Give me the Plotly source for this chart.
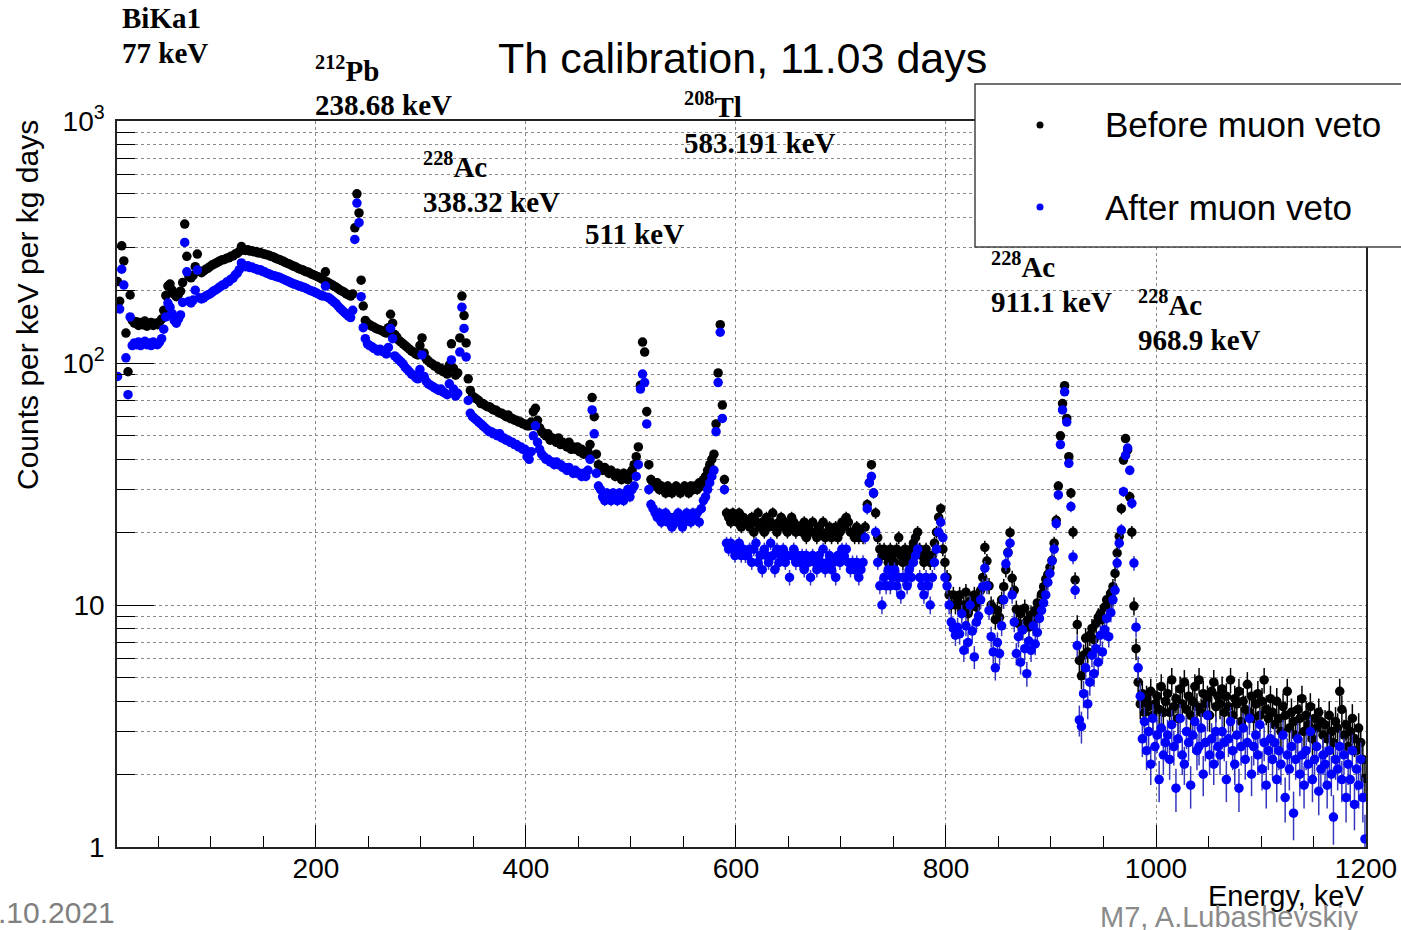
import numpy as np
import plotly.graph_objects as go

# ---------------- data (2 keV bins, centres 11 ... 1199 keV) ----------------
energy_keV = np.arange(11, 1200, 2)

before_veto = [
    # 11-59
    217, 180, 305, 264, 133, 92, 191, 150, 146, 148, 143, 147, 144, 149, 142, 145, 147, 143, 146, 144, 148, 152, 165, 190, 208,
    # 61-109
    212, 200, 192, 188, 192, 198, 215, 375, 276, 228, 225, 230, 250, 282, 240, 236, 240, 244, 246, 250, 254, 256, 259, 262, 265,
    # 111-159
    267, 268, 271, 272, 276, 277, 282, 284, 289, 303, 293, 292, 294, 290, 291, 288, 289, 285, 286, 283, 282, 280, 279, 276, 275,
    # 161-209
    272, 269, 268, 265, 263, 260, 258, 256, 253, 251, 249, 246, 244, 243, 240, 238, 237, 234, 232, 230, 228, 226, 223, 221, 238,
    # 211-259
    216, 213, 211, 208, 206, 203, 200, 198, 196, 193, 191, 189, 193, 362, 500, 417, 220, 172, 150, 146, 144, 142, 141, 139, 138,
    # 261-309
    137, 136, 134, 133, 140, 159, 146, 131, 128, 124, 122, 120, 118, 116, 114, 112, 111, 109, 108, 118, 127, 110, 104, 102, 100,
    # 311-359
    99, 97, 97, 94, 95, 92, 93, 90, 98, 120, 95, 89, 91, 127, 189, 157, 121, 86, 77, 73, 72, 71, 70, 68, 68,
    # 361-409
    67, 66, 66, 65, 64, 64, 63, 62, 62, 61, 60, 61, 59, 59, 58, 58, 57, 57, 56, 56, 55, 55, 57, 63, 65,
    # 411-459
    58, 54, 52, 51, 50, 51, 48, 49, 48, 47, 49, 46, 47, 46, 45, 47, 44, 45, 44, 45, 43, 44, 42, 43, 43,
    # 461-509
    46, 72, 60, 42, 38, 37, 36, 37, 36, 35, 36, 35, 34, 35, 34, 33, 35, 34, 33, 35, 36, 38, 41, 45, 81,
    # 511-559
    122, 111, 63, 38, 33, 32, 31, 32, 30, 31, 30, 29, 31, 30, 29, 30, 31, 30, 29, 30, 31, 30, 29, 31, 30,
    # 561-609
    31, 30, 32, 31, 33, 34, 36, 38, 40, 42, 56, 91, 144, 67, 33, 24, 23, 22, 24, 23, 22, 24, 21, 23, 22,
    # 611-659
    22, 21, 23, 20, 22, 24, 21, 22, 20, 23, 21, 22, 24, 21, 20, 22, 23, 21, 22, 20, 21, 23, 22, 20, 21,
    # 661-709
    21, 20, 22, 19, 21, 20, 22, 20, 19, 21, 20, 22, 19, 20, 21, 19, 20, 21, 19, 20, 22, 21, 23, 22, 20,
    # 711-759
    20, 19, 21, 19, 20, 19, 21, 26, 32, 38, 29, 24, 19, 17, 16, 17, 16, 15, 17, 16, 15, 17, 19, 16, 15,
    # 761-809
    17, 16, 15, 17, 18, 19, 20, 17, 16, 15, 17, 16, 15, 16, 18, 20, 23, 25, 17, 15, 13, 11, 10, 11, 10,
    # 811-859
    10.5, 11, 9.5, 10, 11.3, 9.2, 10.4, 10, 11, 9.8, 10.5, 11.5, 13, 17.3, 15.2, 12, 10, 9.7, 8.7, 9.5, 8.9, 10.5, 11.9, 14, 16.5,
    # 861-909
    19.9, 12.9, 11.5, 9.6, 8.4, 9.2, 7.9, 9.7, 8.6, 8.1, 9.1, 8.4, 9.5, 10.2, 9.6, 11.1, 11.9, 12.8, 13.4, 14.3, 15.3, 18, 22.4, 31, 50,
    # 911-959
    68, 80.6, 59, 41, 29, 20, 12.7, 8.3, 5.9, 5.1, 6.2, 7.3, 6.4, 7.5, 8, 7.2, 8.4, 8.9, 9.2, 8.7, 9.8, 10.5, 10.1, 11.2, 11.9,
    # 961-1009
    13.5, 16.4, 19.2, 25, 39.7, 48.7, 43.7, 28, 20, 9.9, 6.6, 4.8, 3.9, 4.3, 3.6, 4.1, 3.8, 4.4, 3.5, 3.9, 4.2, 3.7, 4.6, 3.6, 4.0,
    # 1011-1059
    4.3, 3.6, 4.9, 3.8, 4.1, 3.4, 4.5, 3.9, 4.8, 3.7, 4.2, 3.5, 4.0, 4.6, 3.8, 4.9, 3.6, 4.3, 3.9, 4.1, 3.5, 4.4, 4.8, 3.8, 4.2,
    # 1061-1109
    3.9, 4.5, 3.6, 4.2, 3.8, 4.9, 3.5, 4.1, 3.9, 4.4, 3.3, 4.0, 3.7, 4.7, 3.6, 4.2, 3.4, 3.9, 4.3, 3.5, 4.0, 4.9, 3.7, 3.4, 4.1,
    # 1111-1159
    3.6, 3.2, 4.0, 3.4, 3.0, 3.8, 3.5, 4.4, 3.1, 3.6, 3.3, 2.9, 3.7, 3.4, 4.1, 3.0, 3.5, 3.2, 3.8, 2.8, 3.4, 3.1, 3.6, 3.3, 2.9,
    # 1161-1199
    3.2, 2.8, 3.5, 3.0, 2.7, 3.3, 3.1, 4.4, 3.7, 2.9, 3.2, 2.6, 3.0, 3.4, 2.8, 2.5, 3.1, 2.7, 2.3, 1.92,
]

after_veto = [
    # 11-59
    88, 167, 244, 210, 105, 74, 155, 118, 121, 119, 122, 118, 120, 123, 119, 121, 118, 122, 120, 119, 122, 126, 138, 155, 177,
    # 61-109
    170, 160, 150, 146, 152, 158, 178, 315, 238, 180, 177, 182, 200, 242, 186, 184, 186, 189, 191, 193, 196, 199, 201, 204, 207,
    # 111-159
    210, 211, 216, 217, 222, 224, 231, 235, 243, 259, 251, 250, 252, 248, 249, 246, 245, 242, 243, 239, 238, 235, 234, 231, 230,
    # 161-209
    229, 227, 226, 224, 222, 220, 218, 216, 214, 212, 211, 209, 208, 206, 205, 203, 201, 199, 198, 196, 194, 192, 190, 189, 208,
    # 211-259
    187, 185, 182, 179, 176, 172, 168, 165, 162, 159, 156, 154, 165, 324, 458, 380, 188, 140, 126, 120, 118, 117, 115, 114, 112,
    # 261-309
    114, 112, 111, 109, 116, 139, 126, 107, 105, 103, 101, 99, 96, 94, 92, 90, 89, 87, 86, 94, 108, 88, 84, 82, 81,
    # 311-359
    80, 79, 78, 77, 78, 76, 75, 74, 82, 103, 78, 73, 75, 111, 170, 139, 106, 70, 62, 60, 59, 58, 57, 56, 55,
    # 361-409
    54, 53, 52, 52, 51, 51, 50, 51, 49, 49, 48, 48, 47, 47, 46, 46, 45, 45, 44, 44, 41, 40, 43, 50, 55,
    # 411-459
    47, 44, 42, 41, 40, 40, 39, 39, 38, 39, 38, 38, 37, 37, 36, 37, 36, 35, 36, 35, 35, 34, 35, 34, 36,
    # 461-509
    40, 64, 51, 35, 31, 30, 28, 27, 29, 28, 27, 29, 28, 27, 29, 28, 27, 29, 30, 28, 30, 31, 34, 38, 78,
    # 511-559
    90, 83, 56, 30, 26, 25, 24, 23, 24, 22, 23, 24, 22, 23, 21, 23, 22, 24, 23, 21, 22, 24, 23, 22, 24,
    # 561-609
    23, 24, 22, 25, 27, 28, 30, 32, 34, 36, 52, 83, 134, 59, 30, 18, 17, 18, 17, 16, 17, 18, 16, 17, 16,
    # 611-659
    16, 17, 15, 17, 18, 15, 16, 14, 17, 16, 15, 18, 16, 14, 17, 15, 16, 17, 15, 16, 13, 16, 17, 15, 16,
    # 661-709
    15, 16, 14, 16, 15, 13, 16, 15, 14, 16, 15, 17, 14, 15, 16, 14, 15, 13, 16, 15, 17, 16, 17, 15, 14,
    # 711-759
    15, 14, 15, 13, 14, 15, 19, 25, 32, 34, 29, 20, 15, 12, 10, 13, 12, 14, 12, 13, 14, 12, 13, 11, 13,
    # 761-809
    13, 12, 14, 13, 15, 16, 17, 13, 12, 11, 13, 12, 10, 13, 15, 17, 20, 22, 19, 13, 12, 10, 8.5, 8, 7.5,
    # 811-859
    8.1, 7.6, 9.2, 6.5, 8.2, 7, 10, 7.8, 6.1, 8.5, 9, 10.5, 11.9, 14.2, 12, 9.5, 7.4, 6.4, 5.5, 7, 6.3, 8.2, 10.5, 14.8, 16.4,
    # 861-909
    18, 11, 8.5, 6.3, 7.4, 5.8, 7.9, 6.6, 5.2, 7.1, 6.5, 8.2, 6.9, 7.7, 8.8, 9.5, 10.2, 11, 12.4, 13.5, 15.2, 17, 21.7, 28.5, 46,
    # 911-959
    64, 76, 57, 38.5, 25.5, 15.8, 11.5, 6.8, 3.35, 3.15, 4.3, 5.5, 3.9, 4.8, 6.2, 5.2, 6.6, 5.8, 7.5, 6.4, 7.9, 8.8, 7.4, 9.3, 10.5,
    # 961-1009
    11.5, 14.9, 18, 20.4, 29.4, 41.5, 44.5, 36, 26.3, 14.9, 8.1, 5.5, 4.2, 2.8, 3.3, 2.5, 3.0, 2.2, 3.4, 2.6, 2.9, 1.9, 3.1, 2.4, 2.7,
    # 1011-1059
    2.9, 2.3, 3.2, 2.6, 1.75, 2.8, 3.4, 2.4, 2.2, 3.0, 2.7, 1.8, 2.9, 3.3, 2.5, 2.6, 3.1, 2.0, 2.7, 3.5, 2.4, 2.8, 2.2, 3.0, 2.6,
    # 1061-1109
    2.4, 3.0, 2.7, 1.9, 2.8, 3.3, 2.5, 2.2, 2.9, 1.75, 2.6, 3.1, 2.3, 2.7, 3.4, 2.0, 2.6, 2.9, 2.4, 3.2, 2.1, 2.7, 1.8, 2.5, 2.8,
    # 1111-1159
    2.3, 2.7, 1.9, 2.5, 2.2, 2.9, 1.6, 2.4, 2.1, 2.6, 1.38, 2.3, 2.8, 2.0, 2.4, 1.8, 2.5, 2.2, 3.0, 1.9, 2.3, 2.6, 1.7, 2.1, 2.4,
    # 1161-1199
    2.2, 1.8, 2.5, 2.0, 1.33, 2.3, 2.1, 2.6, 1.9, 2.4, 1.6, 2.2, 1.9, 2.5, 1.5, 2.1, 1.8, 2.3, 1.6, 1.08,
]

x_tick_vals = [200, 400, 600, 800, 1000, 1200]
x_tick_text = ["200", "400", "600", "800", "1000", "1200"]
y_tick_vals = [1, 10, 100, 1000]
y_tick_text = ["1", "10", "10<sup>2</sup>", "10<sup>3</sup>"]

peak_labels = [
    ("BiKa1", 122, 18), ("77 keV", 122, 53),
    ("<sup>212</sup>Pb", 315, 69), ("238.68 keV", 315, 105),
    ("<sup>228</sup>Ac", 423, 165), ("338.32 keV", 423, 202),
    ("511 keV", 585, 234),
    ("<sup>208</sup>Tl", 684, 105), ("583.191 keV", 684, 143),
    ("<sup>228</sup>Ac", 991, 265), ("911.1 keV", 991, 302),
    ("<sup>228</sup>Ac", 1138, 303), ("968.9 keV", 1138, 340),
]

# Poisson-like uncertainties (counts scale factor per bin)
COUNT_SCALE = 14.0
b = np.array(before_veto, dtype=float)
a = np.array(after_veto, dtype=float)
b_err = np.sqrt(b / COUNT_SCALE)
a_err = np.sqrt(a / COUNT_SCALE)

W, H = 1401, 930
L, R, T, B = 117, 35, 121, 83
PW, PH = W - L - R, H - T - B


def px(xp):
    return (xp - L) / PW


def py(yp):
    return (H - B - yp) / PH


fig = go.Figure()
fig.add_trace(go.Scatter(
    x=energy_keV, y=b, mode="markers", name="Before muon veto",
    marker=dict(color="black", size=9.5),
    error_y=dict(type="data", array=b_err, color="black", thickness=1.5, width=0),
    showlegend=False,
))
fig.add_trace(go.Scatter(
    x=energy_keV, y=a, mode="markers", name="After muon veto",
    marker=dict(color="#0000ff", size=9.5),
    error_y=dict(type="data", array=a_err, color="rgb(55,55,190)", thickness=1.5, width=0),
    showlegend=False,
))

font_sans = "Liberation Sans, Arial, sans-serif"
font_serif = "Liberation Serif, Times New Roman, serif"

minor_x = [v for v in range(50, 1200, 50) if v % 200 != 0]
minor_y = [m * 10 ** d for d in range(3) for m in range(2, 10)]

fig.update_layout(
    width=W, height=H,
    margin=dict(l=L, r=R, t=T, b=B, pad=0, autoexpand=False),
    paper_bgcolor="white", plot_bgcolor="white",
    font=dict(family=font_sans, color="black"),
    xaxis=dict(
        automargin=False,
        range=[10.5, 1200], tickvals=x_tick_vals, ticktext=x_tick_text,
        ticks="inside", ticklen=22, tickwidth=1, tickcolor="black",
        showgrid=True, gridcolor="#8a8a8a", griddash="dot", gridwidth=1,
        showline=True, linecolor="#222", linewidth=1.5, mirror=True,
        zeroline=False, tickfont=dict(size=28, family=font_sans),
        ticklabelstandoff=-4,
        minor=dict(tickvals=minor_x, ticks="inside", ticklen=11, tickcolor="black", tickwidth=1, showgrid=False),
    ),
    yaxis=dict(
        automargin=False,
        type="log", range=[0, 3], tickvals=y_tick_vals, ticktext=y_tick_text,
        ticks="inside", ticklen=37, tickwidth=1, tickcolor="black",
        showgrid=True, gridcolor="#8a8a8a", griddash="dot", gridwidth=1,
        showline=True, linecolor="#222", linewidth=1.5, mirror=True,
        zeroline=False, tickfont=dict(size=28, family=font_sans),
        ticklabelstandoff=5,
        minor=dict(tickvals=minor_y, ticks="inside", ticklen=18, tickcolor="black", tickwidth=1,
                   showgrid=True, gridcolor="#8a8a8a", griddash="dot", gridwidth=1),
    ),
)

ann = []
# title
ann.append(dict(text="Th calibration, 11.03 days", x=px(742), y=py(58), xref="paper", yref="paper",
                showarrow=False, xanchor="center", yanchor="middle", font=dict(size=43, family=font_sans)))
# axis titles
ann.append(dict(text="Counts per keV per kg days", x=px(27), y=py(305), xref="paper", yref="paper",
                showarrow=False, textangle=-90, xanchor="center", yanchor="middle",
                font=dict(size=30, family=font_sans)))
ann.append(dict(text="Energy, keV", x=px(1366), y=py(896), xref="paper", yref="paper",
                showarrow=False, xanchor="right", yanchor="middle", font=dict(size=29, family=font_sans)))
# footer
ann.append(dict(text=".10.2021", x=px(-4), y=py(912), xref="paper", yref="paper",
                showarrow=False, xanchor="left", yanchor="middle", font=dict(size=30, family=font_sans, color="#808080")))
ann.append(dict(text="M7, A.Lubashevskiy", x=px(1360), y=py(917), xref="paper", yref="paper",
                showarrow=False, xanchor="right", yanchor="middle", font=dict(size=29, family=font_sans, color="#8a8a8a")))
# peak labels
for txt, xx, yy in peak_labels:
    ann.append(dict(text="<b>" + txt + "</b>", x=px(xx - 2), y=py(yy), xref="paper", yref="paper",
                    showarrow=False, xanchor="left", yanchor="middle",
                    font=dict(size=29, family=font_serif, color="black")))
# legend texts
ann.append(dict(text="Before muon veto", x=px(1103), y=py(125), xref="paper", yref="paper",
                showarrow=False, xanchor="left", yanchor="middle", font=dict(size=35, family=font_sans)))
ann.append(dict(text="After muon veto", x=px(1103), y=py(207), xref="paper", yref="paper",
                showarrow=False, xanchor="left", yanchor="middle", font=dict(size=35, family=font_sans)))

shapes = [
    dict(type="rect", xref="paper", yref="paper", x0=px(975), x1=px(1420), y0=py(247), y1=py(84),
         fillcolor="white", line=dict(color="#444", width=1.5), layer="above"),
    dict(type="circle", xref="paper", yref="paper", x0=px(1036.5), x1=px(1043.5), y0=py(128.5), y1=py(121.5),
         fillcolor="black", line=dict(width=0), layer="above"),
    dict(type="circle", xref="paper", yref="paper", x0=px(1036.5), x1=px(1043.5), y0=py(210.5), y1=py(203.5),
         fillcolor="#0000ff", line=dict(width=0), layer="above"),
]
fig.update_layout(annotations=ann, shapes=shapes)

fig.write_html("out.html")
